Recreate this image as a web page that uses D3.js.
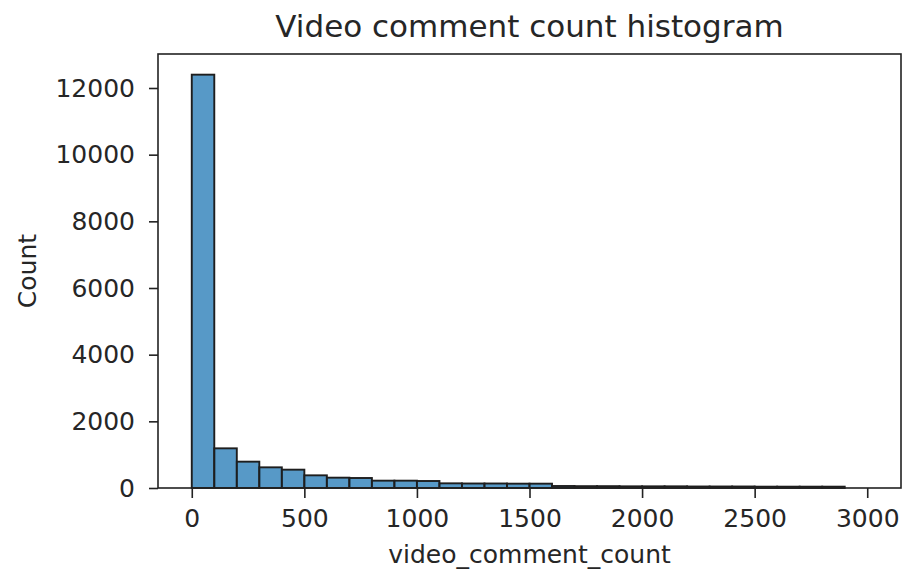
<!DOCTYPE html>
<html>
<head>
<meta charset="utf-8">
<script src="https://cdn.jsdelivr.net/npm/d3@7"></script>
<style>
  body { margin: 0; background: #fff; }
  svg { display: block; font-family: "DejaVu Sans", sans-serif; }
</style>
</head>
<body>
<svg id="chart" width="903" height="575"></svg>
<script>
// ---- data ----
const binEdges = [0,100,200,300,400,500,600,700,800,900,1000,1100,1200,1300,1400,1500,1600,1700,1800,1900,2000,2100,2200,2300,2400,2500,2600,2700,2800,2900,3000];
const binCounts = [12400,1190,790,620,550,380,310,300,220,220,210,140,135,135,130,130,60,55,55,50,50,50,45,45,45,40,40,40,40,0];
const xTicks = [0,500,1000,1500,2000,2500,3000];
const yTicks = [0,2000,4000,6000,8000,10000,12000];
const titleText = "Video comment count histogram";
const xLabelText = "video_comment_count";
const yLabelText = "Count";

// ---- layout ----
const W = 903, H = 575;
const margin = {left: 158, right: 2, top: 54, bottom: 87};
const iw = W - margin.left - margin.right;
const ih = H - margin.top - margin.bottom;

const svg = d3.select("#chart");
const g = svg.append("g").attr("transform", `translate(${margin.left},${margin.top})`);

const xMin = binEdges[0], xMax = binEdges[binEdges.length - 1];
const xPad = (xMax - xMin) * 0.05;
const x = d3.scaleLinear().domain([xMin - xPad, xMax + xPad]).range([0, iw]);
const yMaxVal = d3.max(binCounts) * 1.05;
const y = d3.scaleLinear().domain([0, yMaxVal]).range([ih, 0]);

const bins = binCounts.map((c, i) => ({x0: binEdges[i], x1: binEdges[i + 1], c}));

g.selectAll("rect.bar").data(bins.filter(d => d.c > 0)).enter().append("rect")
  .attr("class", "bar")
  .attr("x", d => x(d.x0))
  .attr("width", d => x(d.x1) - x(d.x0))
  .attr("y", d => y(d.c))
  .attr("height", d => ih - y(d.c))
  .attr("fill", "rgba(31,119,180,0.75)")
  .attr("stroke", "#1e1e1e")
  .attr("stroke-width", 1.9);

// axes
const fontSize = 25;
const xAxis = d3.axisBottom(x).tickValues(xTicks).tickSize(10).tickPadding(11).tickFormat(d3.format("d"));
const yAxis = d3.axisLeft(y).tickValues(yTicks).tickSize(9).tickPadding(14).tickFormat(d3.format("d"));

const gx = g.append("g").attr("transform", `translate(0,${ih})`).call(xAxis);
const gy = g.append("g").call(yAxis);
[gx, gy].forEach(a => {
  a.select(".domain").remove();
  a.selectAll(".tick line").attr("stroke", "#222").attr("stroke-width", 1.6);
  a.selectAll(".tick text").attr("fill", "#262626").style("font-size", fontSize + "px").style("font-family", "DejaVu Sans");
});

// spines
g.append("rect").attr("x", 0).attr("y", 0).attr("width", iw).attr("height", ih)
  .attr("fill", "none").attr("stroke", "#222").attr("stroke-width", 1.6);

// labels
svg.append("text").attr("x", margin.left + iw / 2).attr("y", 37)
  .attr("text-anchor", "middle").style("font-size", "31px").attr("fill", "#262626").text(titleText);
svg.append("text").attr("x", margin.left + x(1500)).attr("y", 563)
  .attr("text-anchor", "middle").style("font-size", fontSize + "px").attr("fill", "#262626").text(xLabelText);
svg.append("text").attr("transform", `translate(36,${margin.top + ih / 2}) rotate(-90)`)
  .attr("text-anchor", "middle").style("font-size", fontSize + "px").attr("fill", "#262626").text(yLabelText);
</script>
</body>
</html>
